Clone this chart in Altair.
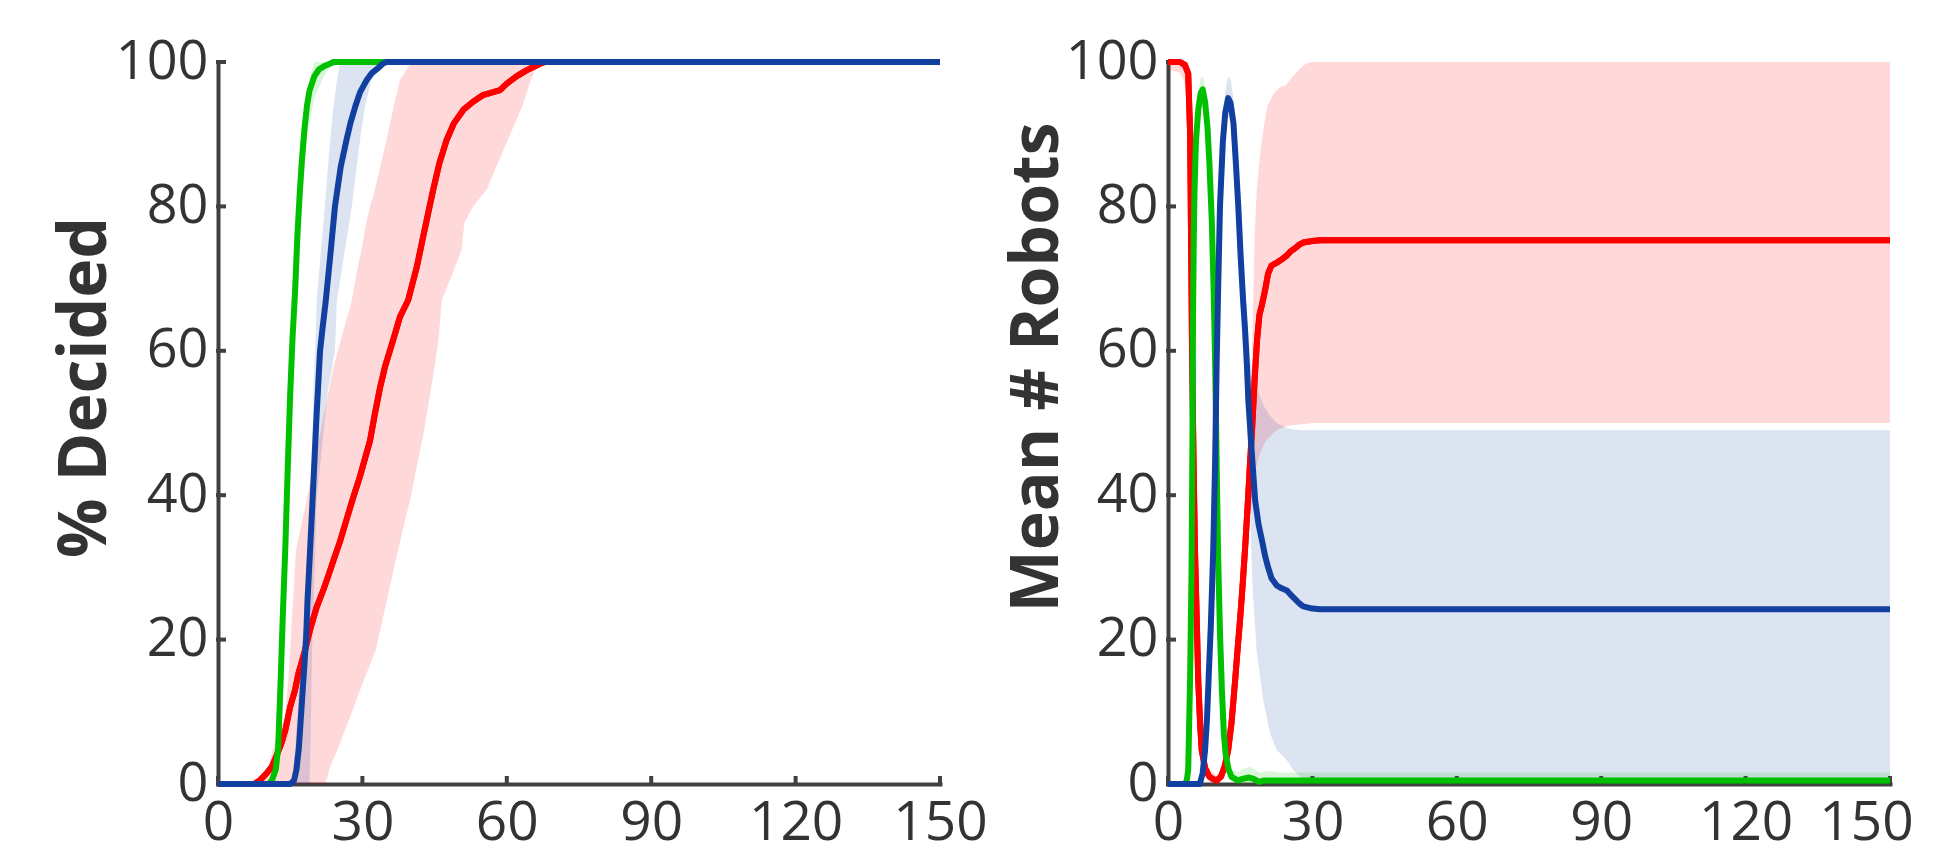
import altair as alt
import pandas as pd

# ---------------- colours ----------------
RED = "#FF0000"
GREEN = "#00C000"
BLUE = "#1240A0"
AXIS = "#404040"
TEXT = "#333333"

X_TICKS = [0, 30, 60, 90, 120, 150]
Y_TICKS = [0, 20, 40, 60, 80, 100]

# ---------------- left panel: % Decided (lines) ----------------
L_GREEN_T = [0, 10.5, 11.2, 12, 12.5, 13, 13.5, 14, 14.5, 15, 15.5, 16, 16.5, 17, 17.5, 18, 18.5, 19, 20, 21, 22, 23, 24, 150]
L_GREEN_V = [0, 0, 0.5, 2, 5, 14, 24, 33, 44, 54, 62, 68, 76, 82, 87, 91, 94, 96, 98, 99, 99.4, 99.7, 100, 100]

L_BLUE_T = [0, 15, 15.8, 16.3, 16.8, 17.5, 18, 18.3, 18.6, 19.1, 19.7, 20.4, 21.2, 21.7, 22.4, 23.3, 24.3, 25.5, 26.7, 27.5, 28.5, 29.5, 30.9, 32, 33, 34.3, 35, 150]
L_BLUE_V = [0, 0, 0.5, 2, 5, 12, 17, 20, 25.5, 32, 40, 50, 60, 63, 67, 73, 80, 85.5, 89.2, 91.5, 93.8, 95.8, 97.5, 98.5, 99, 99.8, 100, 100]

L_RED_T = [0, 7.5, 8.7, 10, 11.2, 12.2, 13.2, 14, 15, 16, 16.7, 18, 19.1, 20.5, 21.9, 23, 24, 25.3, 26.7, 28, 29.5, 30.5, 31.6, 32.6, 33.7, 34.7, 35.7, 36.8, 37.8, 39.5, 41.3, 43, 44.7, 46, 47.5, 49, 51, 53, 55, 57, 58.6, 60, 62, 64, 65.5, 67, 68, 150]
L_RED_V = [0, 0, 0.5, 1.4, 2.4, 4, 5.7, 7.5, 10.7, 13, 15.3, 18.3, 21.3, 24.5, 26.9, 29, 31, 33.5, 36.6, 39.5, 42.6, 45, 47.6, 51.3, 55, 57.8, 60, 62.4, 64.7, 67, 71.6, 77, 82.3, 86, 89.2, 91.5, 93.4, 94.5, 95.4, 95.8, 96.1, 97, 98, 98.8, 99.3, 99.8, 100, 100]

# ---------------- left panel bands (per level: left time, right time) ----------------
LB_RED_V = [0, 2.4, 4.7, 9.4, 14.2, 18.6, 23.4, 32.4, 39.3, 48.5, 57.8, 61.5, 67, 70.8, 74, 77.7, 80, 82.3, 89.2, 93.8, 97.5, 99.8, 100]
LB_RED_TL = [9.5, 10.5, 11.3, 13.9, 14.6, 15, 15.4, 16.2, 18.4, 21.2, 24, 25.5, 27.8, 28.8, 29.8, 30.8, 31.6, 32.6, 35, 36.5, 37.8, 40, 40.5]
LB_RED_TR = [22.3, 23.3, 24.8, 27.5, 30.2, 32.8, 34.4, 37.4, 39.9, 42.7, 45, 45.8, 46.5, 48.8, 50.6, 51.2, 53, 55.8, 60.2, 63.2, 65, 66.5, 67]

LB_BLUE_V = [0, 4.7, 20, 25.5, 39.3, 54.4, 60, 67, 80, 89.2, 93.8, 97.5, 99.8, 100]
LB_BLUE_TL = [15.3, 16, 17.5, 18.6, 19.4, 19.8, 20.2, 20.5, 22.2, 23.3, 24, 24.7, 25.4, 26]
LB_BLUE_TR = [19, 19.2, 19.6, 19.9, 20.5, 22.8, 24.3, 24.7, 27.8, 29.5, 30.5, 31.9, 34.5, 35]

LB_GREEN_V = [0, 5, 20, 40, 60, 80, 90, 95, 98, 100]
LB_GREEN_TL = [10.5, 12, 12.8, 14, 14.9, 16.2, 17.3, 18.2, 19.2, 20]
LB_GREEN_TR = [11.8, 12.9, 13.6, 14.8, 15.6, 17.2, 18.6, 20, 22, 24]

# ---------------- right panel: Mean # Robots (lines) ----------------
R_RED_T = [0, 2.5, 3.5, 4.2, 4.6, 4.8, 5, 5.3, 5.6, 6, 6.3, 6.7, 7, 7.7, 8.5, 9.3, 10.1, 11, 11.8, 12.5, 13.2, 13.9, 14.5, 15, 15.5, 16, 16.5, 17, 17.5, 18, 18.5, 19, 19.5, 20.2, 20.8, 21.5, 22.6, 23.5, 24.7, 25.5, 26.4, 27.3, 28.1, 30, 31.6, 150]
R_RED_V = [100, 100, 99.6, 98.4, 90, 75, 60, 45, 32.4, 22, 14, 8, 4.7, 2.2, 1.1, 0.7, 0.5, 1, 2.5, 4.7, 8.5, 14, 19, 23, 27.5, 32.5, 38, 44, 49.5, 56, 61.5, 65, 66.3, 68.5, 70.7, 71.8, 72.2, 72.6, 73.2, 73.8, 74.2, 74.7, 75, 75.2, 75.3, 75.3]

R_GREEN_T = [0, 3.5, 3.9, 4.2, 4.6, 4.9, 5.1, 5.2, 5.35, 5.5, 5.8, 6.3, 6.8, 7.2, 7.7, 8.2, 8.6, 9.1, 9.5, 9.8, 10.1, 10.4, 10.8, 11.2, 11.6, 12, 12.6, 13.2, 14.5, 15.5, 16.8, 17.8, 18.9, 20, 150]
R_GREEN_V = [0, 0, 0.5, 2, 15, 30, 50, 65, 75, 82, 89, 93.5, 95.7, 96.2, 94.5, 91, 86, 78, 68, 58, 45, 32, 21, 13, 7, 4, 2, 1, 0.5, 0.7, 0.9, 0.7, 0.3, 0.5, 0.5]

R_BLUE_T = [0, 6.6, 7.2, 7.7, 8.1, 8.4, 8.9, 9.4, 9.8, 10.1, 10.4, 10.8, 11.4, 11.9, 12.5, 13, 13.6, 14.1, 14.6, 15.1, 15.6, 16, 16.4, 16.7, 17.4, 18.1, 18.8, 19.5, 20.2, 20.8, 21.5, 22.6, 23.6, 24.7, 25.5, 26.4, 27.3, 28.1, 30, 31.6, 150]
R_BLUE_V = [0, 0, 1.5, 4.7, 9, 14, 22, 32.4, 45, 58, 68, 80, 89, 93, 95, 94.3, 91.5, 86, 80, 73, 67, 63, 58, 53, 46, 39.3, 36, 33.8, 31.5, 30, 28.5, 27.5, 27.1, 26.8, 26.2, 25.6, 25, 24.6, 24.3, 24.2, 24.2]

# ---------------- right panel bands (per time: low, high) ----------------
RB_RED_T = [0, 2.5, 3.5, 4.2, 4.5, 4.8, 5.1, 5.4, 5.8, 6.3, 6.8, 7.5, 8.5, 10, 11, 11.8, 12.5, 13.2, 13.9, 14.5, 15, 15.5, 16, 16.5, 17, 17.6, 18, 18.4, 19.2, 19.9, 20.6, 21.9, 23.2, 24.5, 25.9, 27.3, 28.7, 30, 150]
RB_RED_LO = [99, 98.5, 97, 90, 72, 55, 38, 26, 15, 8, 4, 1.5, 0.3, 0, 0.4, 1.5, 3, 6, 10, 14, 18, 22, 27, 31, 36, 41, 43, 44, 46, 47, 47.8, 48.6, 49.2, 49.5, 49.7, 49.8, 49.9, 50, 50]
RB_RED_HI = [100, 100, 100, 100, 98, 88, 70, 52, 35, 20, 11, 5, 2.2, 1.2, 1.8, 4, 7, 12, 18, 24, 29, 34, 39, 44, 48, 64, 76, 82, 87.7, 91, 93.8, 95.6, 96.5, 96.8, 98, 99, 99.8, 100, 100]

RB_BLUE_T = [0, 6.5, 7.2, 7.7, 8.1, 8.4, 8.9, 9.4, 9.8, 10.1, 10.4, 10.8, 11.4, 11.9, 12.5, 13, 13.6, 14.1, 14.6, 15.1, 15.6, 16, 16.4, 16.7, 17.2, 17.5, 18.4, 19.8, 21.2, 22.6, 24.7, 26.1, 28.2, 30, 150]
RB_BLUE_LO = [0, 0, 0.5, 2.5, 6, 10, 17, 26, 38, 50, 61, 74, 85, 90, 92.5, 92, 88, 82, 75, 67, 60, 55, 50, 45, 36, 28, 18.6, 11.6, 7, 4.7, 3.3, 1.9, 0.5, 0, 0]
RB_BLUE_HI = [0, 0.5, 3, 7.5, 13, 19, 28, 40, 53, 65, 74, 85, 92, 96, 98, 97.5, 95, 90, 85, 79, 73, 69, 65, 62, 58, 56.5, 55, 52.5, 51, 50, 49.3, 49.1, 49, 49, 49]

RB_GREEN_T = [0, 3.5, 4.0, 4.4, 4.8, 5.1, 5.4, 5.8, 6.3, 6.8, 7.2, 7.7, 8.2, 8.6, 9.1, 9.5, 9.8, 10.1, 10.4, 10.8, 11.2, 11.6, 12, 12.6, 13.2, 14.5, 15.5, 16.8, 17.8, 18.9, 21, 23, 150]
RB_GREEN_LO = [0, 0, 0, 3, 15, 35, 62, 82, 90, 93, 94, 92, 87, 81, 72, 62, 51, 38, 25, 15, 9, 4, 2, 0.8, 0.3, 0, 0, 0, 0, 0, 0, 0, 0]
RB_GREEN_HI = [0.2, 0.5, 2, 12, 35, 60, 80, 92, 96, 97.8, 98, 97, 94, 90, 84, 74, 65, 53, 40, 27, 18, 11, 6.5, 3.5, 2, 1.6, 2, 2.4, 2.1, 1.6, 1.8, 1.6, 1.6]


def line_df(t, v):
    return pd.DataFrame({"t": t, "v": v, "i": list(range(len(t)))})


XSCALE = alt.Scale(domain=[0, 150], nice=False, zero=False)
YSCALE = alt.Scale(domain=[0, 100], nice=False, zero=False)


def x_axis(last_shift):
    return alt.Axis(values=X_TICKS, title=None, ticks=False, grid=False,
                    labelFontSize=55, labelPadding=12, labelFont="Open Sans",
                    labelColor=TEXT, domainColor=AXIS, domainWidth=4,
                    domainCap="square", labelFlush=False, labelOverlap=False,
                    labelOffset={"condition": {"test": "datum.value === 150", "value": last_shift},
                                 "value": 0})


def y_axis(title, title_x, title_y):
    return alt.Axis(values=Y_TICKS, title=title, ticks=False, grid=False,
                    labelFontSize=54, labelPadding=10, labelFont="Open Sans",
                    labelColor=TEXT, domainColor=AXIS, domainWidth=4,
                    domainCap="square", labelFlush=False, labelOverlap=False,
                    titleFont="Open Sans", titleFontSize=66, titleFontWeight="bold",
                    titleColor=TEXT, titleAngle=270, titleX=title_x, titleY=title_y,
                    titleAlign="center", titleBaseline="alphabetic")


def line_layer(t, v, color, title, tx, ty, last_shift):
    return alt.Chart(line_df(t, v)).mark_line(
        color=color, strokeWidth=6, strokeJoin="round"
    ).encode(
        x=alt.X("t:Q", scale=XSCALE, axis=x_axis(last_shift)),
        y=alt.Y("v:Q", scale=YSCALE, axis=y_axis(title, tx, ty)),
        order="i:Q",
    )


def hband(v, tl, tr, color):
    df = pd.DataFrame({"v": v, "tl": tl, "tr": tr})
    return alt.Chart(df).mark_area(orient="horizontal", color=color, opacity=0.15).encode(
        y=alt.Y("v:Q", scale=YSCALE),
        x=alt.X("tl:Q", scale=XSCALE),
        x2="tr:Q",
    )


def vband(t, lo, hi, color):
    df = pd.DataFrame({"t": t, "lo": lo, "hi": hi})
    return alt.Chart(df).mark_area(color=color, opacity=0.15).encode(
        x=alt.X("t:Q", scale=XSCALE),
        y=alt.Y("lo:Q", scale=YSCALE),
        y2="hi:Q",
    )


def tick_layers():
    xt = pd.DataFrame({"t": X_TICKS, "v": [0] * len(X_TICKS)})
    yt = pd.DataFrame({"t": [0] * len(Y_TICKS), "v": Y_TICKS})
    xk = alt.Chart(xt).mark_tick(orient="vertical", size=10, thickness=4,
                                 color=AXIS, yOffset=-3, opacity=1).encode(
        x=alt.X("t:Q", scale=XSCALE), y=alt.Y("v:Q", scale=YSCALE))
    yk = alt.Chart(yt).mark_tick(orient="horizontal", size=10, thickness=4,
                                 color=AXIS, xOffset=3, opacity=1).encode(
        x=alt.X("t:Q", scale=XSCALE), y=alt.Y("v:Q", scale=YSCALE))
    return [xk, yk]


W = 722
H = 722
NOVIEW = alt.ViewBackground(stroke="transparent", strokeWidth=0)

LT = ("% Decided", -113, 325, 0)
RT = ("Mean # Robots", -111, 305, -24)

left = alt.layer(
    line_layer(L_RED_T, L_RED_V, RED, *LT),
    hband(LB_RED_V, LB_RED_TL, LB_RED_TR, RED),
    hband(LB_BLUE_V, LB_BLUE_TL, LB_BLUE_TR, BLUE),
    hband(LB_GREEN_V, LB_GREEN_TL, LB_GREEN_TR, GREEN),
    *tick_layers(),
    line_layer(L_RED_T, L_RED_V, RED, *LT),
    line_layer(L_GREEN_T, L_GREEN_V, GREEN, *LT),
    line_layer(L_BLUE_T, L_BLUE_V, BLUE, *LT),
).properties(width=W, height=H, view=NOVIEW)

right = alt.layer(
    line_layer(R_RED_T, R_RED_V, RED, *RT),
    vband(RB_RED_T, RB_RED_LO, RB_RED_HI, RED),
    vband(RB_BLUE_T, RB_BLUE_LO, RB_BLUE_HI, BLUE),
    vband(RB_GREEN_T, RB_GREEN_LO, RB_GREEN_HI, GREEN),
    *tick_layers(),
    line_layer(R_RED_T, R_RED_V, RED, *RT),
    line_layer(R_GREEN_T, R_GREEN_V, GREEN, *RT),
    line_layer(R_BLUE_T, R_BLUE_V, BLUE, *RT),
).properties(width=W, height=H, view=NOVIEW)

chart = alt.hconcat(left, right, spacing=228, bounds="flush").properties(
    autosize=alt.AutoSizeParams(type="none"),
    padding={"left": 210, "top": 54, "right": 1708, "bottom": 788},
).configure_view(stroke="transparent", strokeWidth=0).configure(background="white")

chart.save("out.html", embed_options={"renderer": "svg", "actions": False})
